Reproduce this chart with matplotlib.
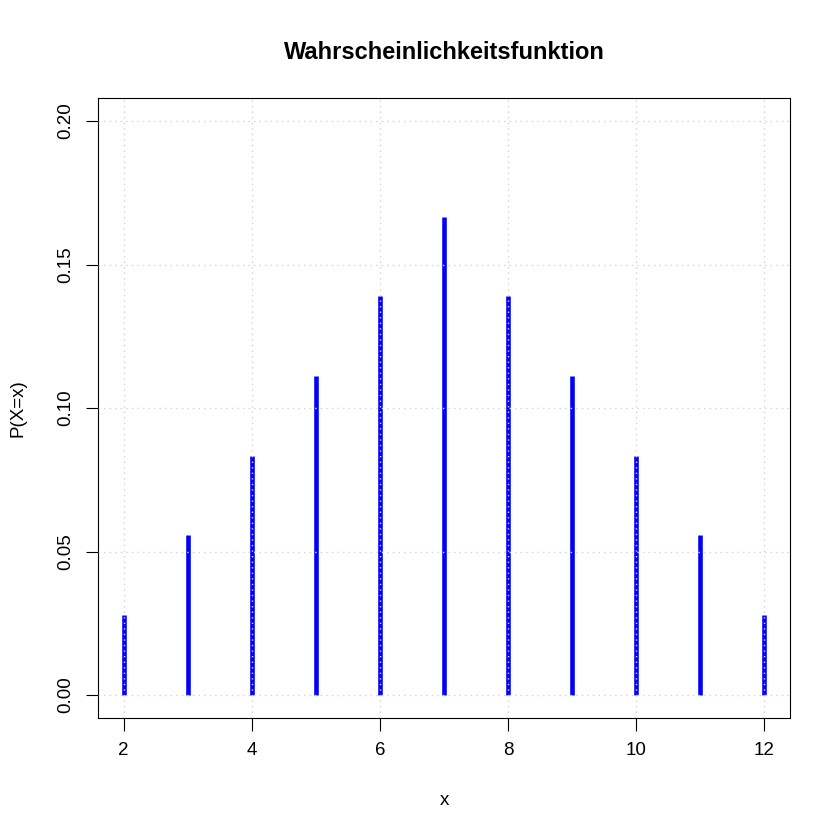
import matplotlib.pyplot as plt

plt.rcParams["font.family"] = ["Liberation Sans", "DejaVu Sans"]

x_vals = [2, 3, 4, 5, 6, 7, 8, 9, 10, 11, 12]
probs = [0.0278, 0.0556, 0.0833, 0.1111, 0.1389, 0.1667,
         0.1389, 0.1111, 0.0833, 0.0556, 0.0278]
x_ticks = [2, 4, 6, 8, 10, 12]
y_ticks = [0.00, 0.05, 0.10, 0.15, 0.20]
y_labels = ["0.00", "0.05", "0.10", "0.15", "0.20"]

fig = plt.figure(figsize=(8.4, 8.4), dpi=100)
ax = fig.add_axes([0.1167, 0.1452, 0.8238, 0.7381])

ax.vlines(x_vals, 0, probs, color="blue", linewidth=3.3, zorder=1)

ax.set_xlim(1.6, 12.4)
ax.set_ylim(-0.008, 0.208)
ax.set_xticks(x_ticks)
ax.set_yticks(y_ticks)
ax.set_yticklabels(y_labels, rotation=90, va="center")
ax.tick_params(direction="out", length=9, width=0.8, labelsize=13.5, pad=8)

ax.set_axisbelow(False)
ax.grid(True, color="#d3d3d3", linestyle=(0, (1, 3)), linewidth=1)

for s in ax.spines.values():
    s.set_linewidth(0.8)

ax.set_title("Wahrscheinlichkeitsfunktion", fontsize=17, fontweight="bold", pad=28)
ax.set_xlabel("x", fontsize=13.5, labelpad=24)
ax.set_ylabel("P(X=x)", fontsize=13.5, labelpad=22)

fig.savefig("out.png", dpi=100)
